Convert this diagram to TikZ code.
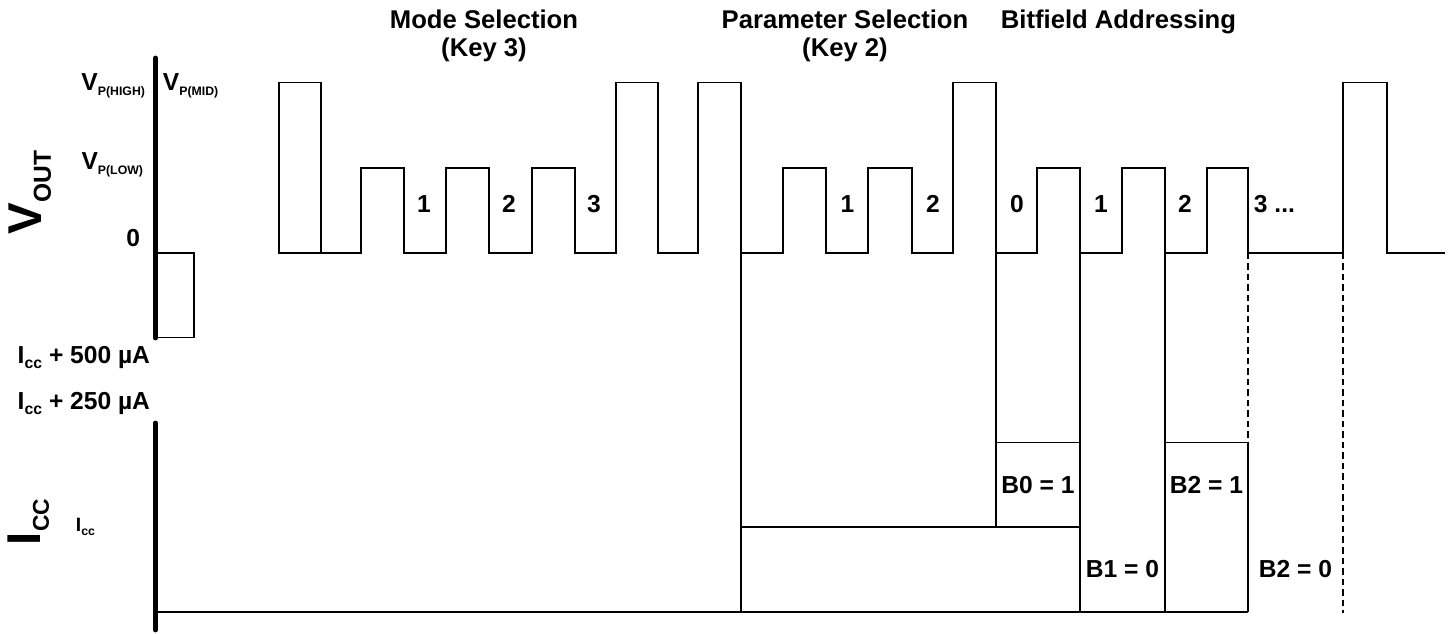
\documentclass[tikz,border=0pt]{standalone}
\usepackage{fontspec}
\setmainfont{Liberation Sans}
\def\lsub[#1:#2]#3{\raisebox{-#2}{\fontsize{#1}{#1}\selectfont #3}}

\begin{document}
\begin{tikzpicture}[line width=1.1pt,
		lbl/.style={inner sep=0pt, font=\fontsize{14pt}{16pt}\selectfont\bfseries},
		title/.style={lbl, align=center, anchor=base, font=\fontsize{14.6pt}{16pt}\selectfont\bfseries},
		big/.style={inner sep=0pt, rotate=90, anchor=base, font=\fontsize{27pt}{30pt}\selectfont\bfseries},
		axis/.style={line width=2.7pt, line cap=round},
		hidden/.style={dash pattern=on 0.13cm off 0.08cm}]
		\useasboundingbox (0,0) rectangle (29.06,12.68);
		%%%%% AXES %%%%%
		\draw[axis] (3.11,11.52) -- (3.11,5.92);
		\draw[axis] (3.11,4.22) -- (3.11,0.08);
		
		\node[big] (vout) at (0.84,8.83) {V\lsub[14pt:5pt]{OUT}};
		\node[big] (icc) at (0.80,2.24) {I\lsub[13pt:5pt]{CC}};
		
		\node[lbl, anchor=base east] (vhigh) at (2.92,10.86) {V\lsub[7pt:2.8pt]{P(HIGH)}};
		\node[lbl, anchor=base west] (vmid) at (3.24,10.86) {V\lsub[7pt:2.8pt]{P(MID)}};
		\node[lbl, anchor=base east] (vlow) at (2.88,9.28) {V\lsub[7pt:2.8pt]{P(LOW)}};
		\node[lbl, anchor=base east] (vzero) at (2.82,7.74) {0};
		\node[lbl, anchor=base east] (i500) at (3.02,5.40) {I\lsub[9pt:2.3pt]{cc} + 500 µA};
		\node[lbl, anchor=base east] (i250) at (3.02,4.48) {I\lsub[9pt:2.3pt]{cc} + 250 µA};
		\node[lbl, anchor=base west, font=\fontsize{11pt}{13pt}\selectfont\bfseries] (iref) at (1.50,2.04) {I\lsub[7pt:2pt]{cc}};
		
		%%%%% VOUT %%%%%
		\draw (3.11,7.62) -- (3.88,7.62) -- (3.88,5.93) -- (3.11,5.93);
		\draw (6.42,7.62) -- (5.58,7.62) -- (5.58,11.03) -- (6.42,11.03) -- (6.42,7.62)
		-- (7.22,7.62) -- (7.22,9.32) -- (8.08,9.32) -- (8.08,7.62)
		-- (8.92,7.62) -- (8.92,9.32) -- (9.78,9.32) -- (9.78,7.62)
		-- (10.64,7.62) -- (10.64,9.32) -- (11.50,9.32) -- (11.50,7.62)
		-- (12.32,7.62) -- (12.32,11.03) -- (13.16,11.03) -- (13.16,7.62)
		-- (13.96,7.62) -- (13.96,11.03) -- (14.82,11.03) -- (14.82,7.62)
		-- (15.66,7.62) -- (15.66,9.32) -- (16.52,9.32) -- (16.52,7.62)
		-- (17.36,7.62) -- (17.36,9.32) -- (18.24,9.32) -- (18.24,7.62)
		-- (19.06,7.62) -- (19.06,11.03) -- (19.92,11.03) -- (19.92,7.62)
		-- (20.74,7.62) -- (20.74,9.32) -- (21.60,9.32) -- (21.60,7.62)
		-- (22.44,7.62) -- (22.44,9.32) -- (23.30,9.32) -- (23.30,7.62)
		-- (24.14,7.62) -- (24.14,9.32) -- (24.96,9.32) -- (24.96,7.62)
		-- (26.86,7.62) -- (26.86,11.03) -- (27.74,11.03) -- (27.74,7.62) -- (28.90,7.62);
		
		\node[title] (mode) at (9.68,11.54) {Mode Selection\\(Key 3)};
		\node[title] (param) at (16.90,11.54) {Parameter Selection\\(Key 2)};
		\node[title] (bits) at (22.37,12.10) {Bitfield Addressing};
		
		\node[lbl, anchor=base] (m1) at (8.48,8.42) {1};
		\node[lbl, anchor=base] (m2) at (10.18,8.42) {2};
		\node[lbl, anchor=base] (m3) at (11.88,8.42) {3};
		\node[lbl, anchor=base] (p1) at (16.95,8.42) {1};
		\node[lbl, anchor=base] (p2) at (18.66,8.42) {2};
		\node[lbl, anchor=base] (b0) at (20.34,8.42) {0};
		\node[lbl, anchor=base] (b1) at (22.02,8.42) {1};
		\node[lbl, anchor=base] (b2) at (23.70,8.42) {2};
		\node[lbl, anchor=base west] (b3) at (25.06,8.42) {3 ...};
		
		%%%%% ICC %%%%%
		\draw (3.11,0.44) -- (24.96,0.44);
		\draw (14.82,7.62) -- (14.82,0.44);
		\draw (14.82,2.14) -- (21.60,2.14);
		\draw (19.92,7.62) -- (19.92,2.14);
		\draw (19.92,3.83) -- (21.60,3.83);
		\draw (21.60,7.62) -- (21.60,0.44);
		\draw (23.30,7.62) -- (23.30,0.44);
		\draw (23.30,3.83) -- (24.96,3.83);
		\draw[hidden] (24.96,7.62) -- (24.96,3.83);
		\draw (24.96,3.83) -- (24.96,0.44);
		\draw[hidden] (26.86,7.62) -- (26.86,0.42);
		
		\node[lbl] (bit0) at (20.76,2.98) {B0 = 1};
		\node[lbl] (bit1) at (22.45,1.30) {B1 = 0};
		\node[lbl] (bit2) at (24.13,2.98) {B2 = 1};
		\node[lbl] (bit2z) at (25.91,1.30) {B2 = 0};
	\end{tikzpicture}
\end{document}
